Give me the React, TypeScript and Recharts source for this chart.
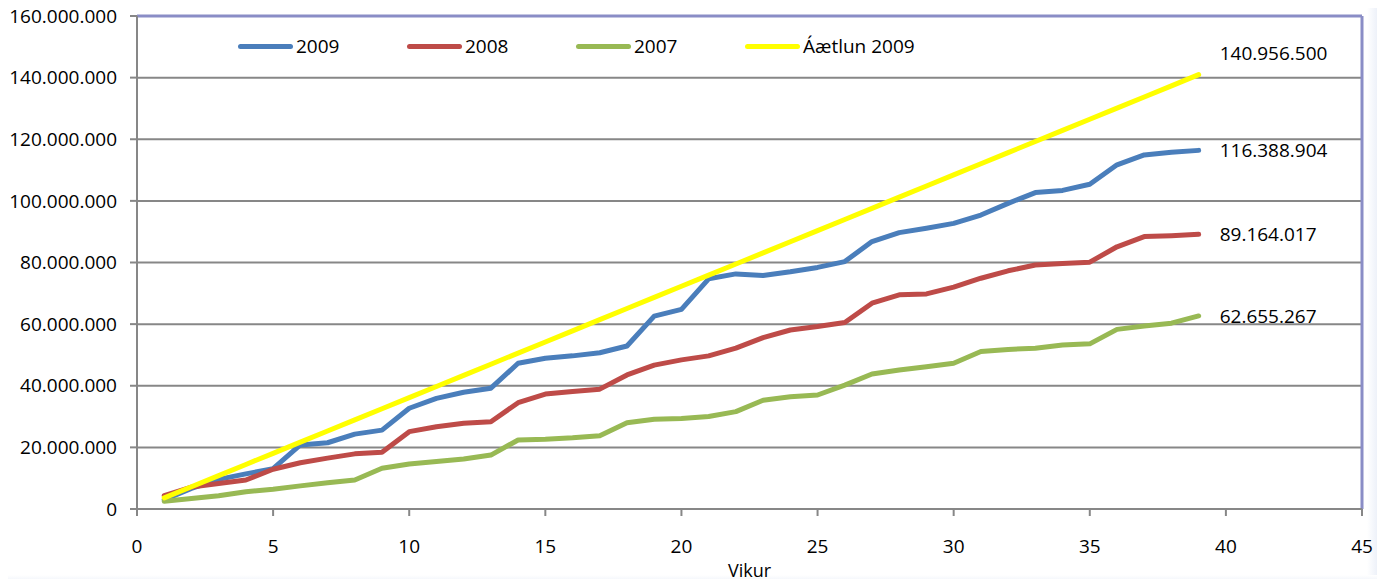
import { LineChart, Line, XAxis, YAxis, CartesianGrid, ReferenceLine } from "recharts"

const weeks = [
  1, 2, 3, 4, 5, 6, 7, 8, 9, 10, 11, 12, 13, 14, 15, 16, 17, 18, 19, 20,
  21, 22, 23, 24, 25, 26, 27, 28, 29, 30, 31, 32, 33, 34, 35, 36, 37, 38, 39,
]

const sales2009 = [
  3000000, 6700000, 9600000, 11400000, 13100000, 20800000, 21500000, 24300000, 25600000, 32700000,
  35900000, 37900000, 39200000, 47300000, 48900000, 49700000, 50700000, 52900000, 62600000, 64800000,
  74700000, 76300000, 75800000, 77000000, 78400000, 80300000, 86800000, 89700000, 91100000, 92700000,
  95400000, 99200000, 102700000, 103400000, 105400000, 111700000, 114900000, 115800000, 116388904,
]

const sales2008 = [
  4300000, 7100000, 8300000, 9400000, 12900000, 15000000, 16500000, 17900000, 18400000, 25100000,
  26700000, 27800000, 28300000, 34500000, 37300000, 38100000, 38900000, 43500000, 46700000, 48400000,
  49700000, 52200000, 55600000, 58100000, 59200000, 60500000, 66800000, 69500000, 69800000, 72000000,
  74900000, 77300000, 79200000, 79700000, 80100000, 85100000, 88400000, 88700000, 89164017,
]

const sales2007 = [
  2500000, 3400000, 4300000, 5600000, 6400000, 7500000, 8500000, 9400000, 13200000, 14600000,
  15400000, 16200000, 17500000, 22400000, 22600000, 23100000, 23800000, 28000000, 29100000, 29400000,
  30000000, 31600000, 35300000, 36400000, 37000000, 40200000, 43800000, 45100000, 46200000, 47300000,
  51100000, 51800000, 52200000, 53200000, 53600000, 58300000, 59400000, 60300000, 62655267,
]

const budget2009 = [
  3614269, 7228538, 10842808, 14457077, 18071346, 21685615, 25299885, 28914154, 32528423, 36142692,
  39756962, 43371231, 46985500, 50599769, 54214038, 57828308, 61442577, 65056846, 68671115, 72285385,
  75899654, 79513923, 83128192, 86742462, 90356731, 93971000, 97585269, 101199538, 104813808, 108428077,
  112042346, 115656615, 119270885, 122885154, 126499423, 130113692, 133727962, 137342231, 140956500,
]

const xTicks = [0, 5, 10, 15, 20, 25, 30, 35, 40, 45]
const yTicks = [0, 20000000, 40000000, 60000000, 80000000, 100000000, 120000000, 140000000, 160000000]

const series = [
  { key: "s2009", name: "2009", color: "#4a7ebb", values: sales2009, labelDy: 0 },
  { key: "s2008", name: "2008", color: "#be4b48", values: sales2008, labelDy: 0 },
  { key: "s2007", name: "2007", color: "#98b954", values: sales2007, labelDy: 0 },
  { key: "budget", name: "Áætlun 2009", color: "#ffff00", values: budget2009, labelDy: -21 },
]

const data = weeks.map((w, i) => {
  const row: Record<string, number> = { week: w }
  series.forEach((s) => {
    row[s.key] = s.values[i]
  })
  return row
})

const FONT = "'Open Sans', sans-serif"
const GRID = "#878787"
const FRAME = "#8a8dc6"

const fmt = (v: number) => String(Math.round(v)).replace(/\B(?=(\d{3})+(?!\d))/g, ".")

function endLabel(dy: number) {
  return (props: any) => {
    const { index, x, y, value } = props
    if (index !== weeks.length - 1) return <g />
    return (
      <text x={x + 21} y={y + dy} dy="0.35em" fill="#000" fontSize={19} fontFamily={FONT}>
        {fmt(value)}
      </text>
    )
  }
}

export default function App() {
  return (
    <div
      style={{
        position: "relative",
        margin: -8,
        width: 1385,
        height: 587,
        background: "#fff",
        overflow: "hidden",
        fontFamily: FONT,
      }}
    >
      <div
        style={{
          position: "absolute",
          right: 0,
          top: 0,
          width: 18,
          height: 587,
          background: "linear-gradient(to right, #ffffff, #dfe6f4)",
        }}
      />
      <div
        style={{
          position: "absolute",
          left: 0,
          bottom: 0,
          width: 1385,
          height: 12,
          background: "linear-gradient(to bottom, #ffffff, #e3e9f5)",
        }}
      />
      <LineChart
        width={1385}
        height={587}
        data={data}
        margin={{ top: 16, right: 23, left: 0, bottom: 0 }}
        style={{ position: "absolute", left: 0, top: 0 }}
      >
        <CartesianGrid vertical={false} stroke={GRID} strokeWidth={2} />
        <XAxis
          type="number"
          dataKey="week"
          domain={[0, 45]}
          ticks={xTicks}
          height={78}
          tickSize={7}
          tickMargin={24}
          stroke={GRID}
          strokeWidth={2}
          tick={{ fill: "#000", fontSize: 19, fontFamily: FONT }}
          label={{ value: "Vikur", position: "insideBottom", offset: 10, fill: "#000", fontSize: 18, fontFamily: FONT }}
        />
        <YAxis
          type="number"
          domain={[0, 160000000]}
          ticks={yTicks}
          width={137}
          tickSize={7}
          tickMargin={13}
          stroke={GRID}
          strokeWidth={2}
          tickFormatter={fmt}
          tick={{ fill: "#000", fontSize: 19, fontFamily: FONT }}
        />
        <ReferenceLine y={160000000} stroke={FRAME} strokeWidth={3} />
        <ReferenceLine x={45} stroke={FRAME} strokeWidth={3} />
        {series.map((s) => (
          <Line
            key={s.key}
            type="linear"
            dataKey={s.key}
            name={s.name}
            stroke={s.color}
            strokeWidth={5}
            strokeLinecap="round"
            strokeLinejoin="round"
            dot={false}
            isAnimationActive={false}
            label={endLabel(s.labelDy)}
          />
        ))}
      </LineChart>
      <div style={{ position: "absolute", left: 0, top: 33, height: 26 }}>
        {series.map((s, i) => (
          <div
            key={s.key}
            style={{
              position: "absolute",
              left: 238 + i * 169,
              top: 0,
              display: "flex",
              alignItems: "center",
              whiteSpace: "nowrap",
              height: 26,
            }}
          >
            <div style={{ width: 55, height: 5, borderRadius: 3, background: s.color }} />
            <span style={{ marginLeft: 3, fontSize: 19, color: "#000" }}>{s.name}</span>
          </div>
        ))}
      </div>
    </div>
  )
}
